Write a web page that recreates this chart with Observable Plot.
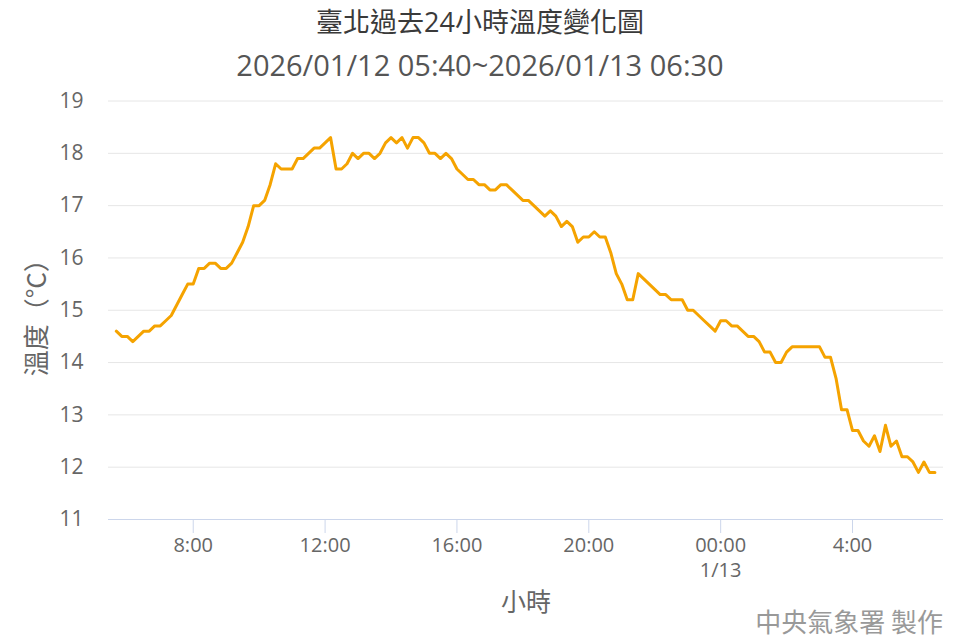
<!DOCTYPE html>
<html>
<head>
<meta charset="utf-8">
<script src="https://cdn.jsdelivr.net/npm/d3@7"></script>
<script src="https://cdn.jsdelivr.net/npm/@observablehq/plot@0.6"></script>
<style>
  body { margin: 0; background: #fff; font-family: "Open Sans", "Noto Sans CJK TC", sans-serif; }
  #wrap { position: relative; width: 960px; height: 640px; overflow: hidden; }
  #title { position: absolute; left: 0; width: 960px; top: 8px; text-align: center; font-size: 27px; line-height: 1; color: #3a3a3a; }
  #subtitle { position: absolute; left: 0; width: 960px; top: 50px; text-align: center; font-size: 29px; line-height: 1; color: #555; }
  #chart { position: absolute; left: 0; top: 80px; }
  #caption { position: absolute; right: 17px; top: 608px; font-size: 26px; line-height: 1; color: #999; font-family: "Noto Sans CJK TC", sans-serif; }
</style>
</head>
<body>
<div id="wrap">
  <div id="title">臺北過去24小時溫度變化圖</div>
  <div id="subtitle">2026/01/12 05:40~2026/01/13 06:30</div>
  <div id="chart"></div>
  <div id="caption">中央氣象署 製作</div>
</div>
<script>
// ---- data (10-minute observations, 2026/01/12 05:40 → 2026/01/13 06:30) ----
const startTime = new Date(2026, 0, 12, 5, 40);
const stepMinutes = 10;
const temps = [
  14.6, 14.5, 14.5, 14.4, 14.5, 14.6, 14.6, 14.7, 14.7, 14.8,
  14.9, 15.1, 15.3, 15.5, 15.5, 15.8, 15.8, 15.9, 15.9, 15.8,
  15.8, 15.9, 16.1, 16.3, 16.6, 17.0, 17.0, 17.1, 17.4, 17.8,
  17.7, 17.7, 17.7, 17.9, 17.9, 18.0, 18.1, 18.1, 18.2, 18.3,
  17.7, 17.7, 17.8, 18.0, 17.9, 18.0, 18.0, 17.9, 18.0, 18.2,
  18.3, 18.2, 18.3, 18.1, 18.3, 18.3, 18.2, 18.0, 18.0, 17.9,
  18.0, 17.9, 17.7, 17.6, 17.5, 17.5, 17.4, 17.4, 17.3, 17.3,
  17.4, 17.4, 17.3, 17.2, 17.1, 17.1, 17.0, 16.9, 16.8, 16.9,
  16.8, 16.6, 16.7, 16.6, 16.3, 16.4, 16.4, 16.5, 16.4, 16.4,
  16.1, 15.7, 15.5, 15.2, 15.2, 15.7, 15.6, 15.5, 15.4, 15.3,
  15.3, 15.2, 15.2, 15.2, 15.0, 15.0, 14.9, 14.8, 14.7, 14.6,
  14.8, 14.8, 14.7, 14.7, 14.6, 14.5, 14.5, 14.4, 14.2, 14.2,
  14.0, 14.0, 14.2, 14.3, 14.3, 14.3, 14.3, 14.3, 14.3, 14.1,
  14.1, 13.7, 13.1, 13.1, 12.7, 12.7, 12.5, 12.4, 12.6, 12.3,
  12.8, 12.4, 12.5, 12.2, 12.2, 12.1, 11.9, 12.1, 11.9, 11.9
];
const yTicks = [11, 12, 13, 14, 15, 16, 17, 18, 19];
const xTickTimes = [
  new Date(2026, 0, 12, 8, 0),
  new Date(2026, 0, 12, 12, 0),
  new Date(2026, 0, 12, 16, 0),
  new Date(2026, 0, 12, 20, 0),
  new Date(2026, 0, 13, 0, 0),
  new Date(2026, 0, 13, 4, 0)
];
const xTickLabels = ["8:00", "12:00", "16:00", "20:00", "00:00\n1/13", "4:00"];
const yLabel = "溫度（°C）";
const xLabel = "小時";

// ---- build table ----
const data = temps.map((t, i) => ({
  time: new Date(startTime.getTime() + i * stepMinutes * 60000),
  temp: t
}));
const labelMap = new Map(xTickTimes.map((d, i) => [+d, xTickLabels[i]]));
const xDomain = [new Date(2026, 0, 12, 5, 25, 48), new Date(2026, 0, 13, 6, 45, 36)];

const fontFam = '"Open Sans", "Noto Sans CJK TC", sans-serif';
const cjkFam = '"Noto Sans CJK TC", sans-serif';

const chart = Plot.plot({
  width: 960,
  height: 560,
  marginTop: 20.5,
  marginBottom: 121,
  marginLeft: 108,
  marginRight: 17,
  style: { fontFamily: fontFam, fontSize: "21px", color: "#666", background: "transparent", overflow: "visible" },
  x: { type: "time", domain: xDomain },
  y: { domain: [11, 19] },
  marks: [
    Plot.ruleY(yTicks, { stroke: "#e6e6e6", strokeWidth: 1 }),
    Plot.ruleY([11], { stroke: "#ccd6eb", strokeWidth: 1 }),
    Plot.axisY(yTicks, { tickSize: 0, tickPadding: 25, fill: "#666", fontSize: 21, tickFormat: d => String(d), label: null }),
    Plot.axisX(xTickTimes, {
      tickSize: 14, tickPadding: 1, stroke: "#ccd6eb", fill: "#666", fontSize: 20,
      lineHeight: 1.25, tickFormat: d => labelMap.get(+d), label: null
    }),
    Plot.text([yLabel], { frameAnchor: "left", textAnchor: "middle", dx: -71, dy: 1, rotate: -90, fontSize: 26, fill: "#666", fontFamily: cjkFam }),
    Plot.text([xLabel], { frameAnchor: "bottom", dy: 91, fontSize: 25, fill: "#666", fontFamily: cjkFam }),
    Plot.lineY(data, { x: "time", y: "temp", stroke: "#f5a300", strokeWidth: 3, strokeLinejoin: "round" })
  ]
});
document.getElementById("chart").appendChild(chart);
</script>
</body>
</html>
